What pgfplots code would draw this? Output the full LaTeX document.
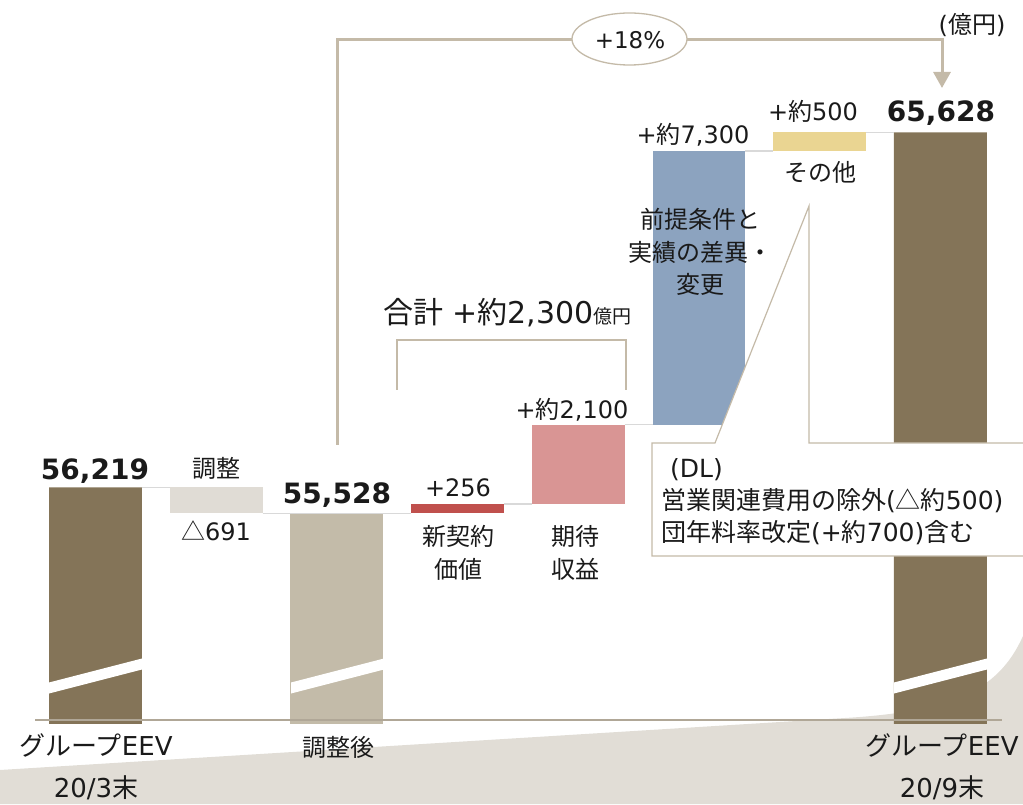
\documentclass[border=0pt]{standalone}
\usepackage{fontspec}
\setmainfont{DejaVu Sans}
\newfontfamily\jp{Noto Sans CJK JP}
\usepackage{pgfplots}
\pgfplotsset{compat=1.18}
\usetikzlibrary{arrows.meta,shapes.geometric}
\definecolor{dark}{HTML}{847458}
\definecolor{adj}{HTML}{E0DCD5}
\definecolor{mid}{HTML}{C3BBA9}
\definecolor{nred}{HTML}{C0504D}
\definecolor{npink}{HTML}{D99594}
\definecolor{nblue}{HTML}{8CA3BF}
\definecolor{nyel}{HTML}{EAD592}
\definecolor{swoosh}{HTML}{E1DDD6}
\definecolor{beige}{HTML}{C4BAA8}
\definecolor{conn}{HTML}{D9D9D9}
\definecolor{txt}{HTML}{1A1A1A}
\newcommand\fs[1]{\fontsize{#1}{#1}\selectfont}
\pgfplotsset{frame/.style={at={(0pt,0pt)}, anchor=south west, x=120.7pt, y=0.03773pt,
  xmin=-0.7912, xmax=7.6844, ymin=47826.7, ymax=69136, axis lines=none, ticks=none, scale only axis}}
\begin{document}
\begin{tikzpicture}
\useasboundingbox (0,0) rectangle (1023pt,804pt);
\begin{scope}[x=1pt,y=-1pt,shift={(0pt,804pt)}]
\fill[swoosh] (0,770) -- (850,717.7) .. controls (950,711) and (998,692) .. (1023,636) -- (1023,804) -- (0,804) -- cycle;
\end{scope}
\begin{axis}[frame, ybar stacked, bar width=0.77]
\addplot[fill=none, draw=none] coordinates {(0,49950) (1,55528) (2,49950) (3,55528) (4,55784) (5,57884) (6,65128) (7,49950)};
\addplot[fill=dark, draw=none] coordinates {(0,6269) (1,0) (2,0) (3,0) (4,0) (5,0) (6,0) (7,15678)};
\addplot[fill=adj, draw=none] coordinates {(0,0) (1,691) (2,0) (3,0) (4,0) (5,0) (6,0) (7,0)};
\addplot[fill=mid, draw=none] coordinates {(0,0) (1,0) (2,5578) (3,0) (4,0) (5,0) (6,0) (7,0)};
\addplot[fill=nred, draw=none] coordinates {(0,0) (1,0) (2,0) (3,256) (4,0) (5,0) (6,0) (7,0)};
\addplot[fill=npink, draw=none] coordinates {(0,0) (1,0) (2,0) (3,0) (4,2100) (5,0) (6,0) (7,0)};
\addplot[fill=nblue, draw=none] coordinates {(0,0) (1,0) (2,0) (3,0) (4,0) (5,7244) (6,0) (7,0)};
\addplot[fill=nyel, draw=none] coordinates {(0,0) (1,0) (2,0) (3,0) (4,0) (5,0) (6,500) (7,0)};
\end{axis}
\begin{axis}[frame]
\addplot[conn, line width=1.5pt] coordinates {(0.385,56219) (0.615,56219)};
\addplot[conn, line width=1.5pt] coordinates {(1.385,55528) (2.615,55528)};
\addplot[conn, line width=1.5pt] coordinates {(3.385,55784) (3.615,55784)};
\addplot[conn, line width=1.5pt] coordinates {(4.385,57884) (4.615,57884)};
\addplot[conn, line width=1.5pt] coordinates {(5.385,65128) (5.615,65128)};
\addplot[conn, line width=1.5pt] coordinates {(6.385,65628) (6.615,65628)};
\addplot[beige!90!black, line width=2.2pt] coordinates {(-0.501,50053) (7.51,50053)};
\end{axis}
\begin{scope}[x=1pt,y=-1pt,shift={(0pt,804pt)}, every node/.style={text=txt, inner sep=0pt}]
\foreach \cx in {95.5,337.5,940.5}{
  \fill[white] (\cx-46.5,693.5) -- (\cx+46.5,669.5) -- (\cx+46.5,658.5) -- (\cx-46.5,682.5) -- cycle;
}
% callout
\filldraw[fill=white, draw=beige, line width=1.2pt] (1030,443) -- (809,443) -- (809,206) -- (715,443) -- (652,443) -- (652,556) -- (1030,556);
\node[anchor=west, font=\fs{25}] at (670,470) {(DL)};
\node[anchor=west, font=\fs{25}] at (661,501) {{\jp 営業関連費用の除外}({\jp △約}500)};
\node[anchor=west, font=\fs{25}] at (661,533) {{\jp 団年料率改定}(+{\jp 約}700){\jp 含む}};
% +18% connector
\draw[beige, line width=3pt, -{Triangle[width=17pt,length=16pt]}] (337,445) -- (337,40) -- (942,40) -- (942,88);
\node[ellipse, draw=beige, fill=white, line width=1.3pt, minimum width=115pt, minimum height=52pt] at (629.5,39) {};
\node[font=\fs{23}] at (630,40) {+18\%};
\node[font=\fs{24}] at (972,25) {({\jp 億円})};
% bracket
\draw[beige, line width=2.5pt] (397,390) -- (397,340) -- (626,340) -- (626,390);
\node[anchor=west, font=\fs{30}] at (383,313) {{\jp 合計} +{\jp 約}2,300{\fs{19}\jp 億円}};
% value labels
\node[font=\fs{28}\bfseries] at (95,471) {56,219};
\node[font=\fs{24}\jp] at (216,468) {調整};
\node[font=\fs{24}] at (216,531) {{\jp △}691};
\node[font=\fs{28}\bfseries] at (337,495) {55,528};
\node[font=\fs{24}] at (458,488) {+256};
\node[font=\fontsize{24}{33}\selectfont\jp, align=center] at (458,553) {新契約\\価値};
\node[font=\fs{24}] at (572,410) {+{\jp 約}2,100};
\node[font=\fontsize{24}{33}\selectfont\jp, align=center] at (575,553) {期待\\収益};
\node[font=\fs{24}] at (693,135) {+{\jp 約}7,300};
\node[font=\fontsize{24}{32.5}\selectfont\jp, align=center] at (700,252) {前提条件と\\実績の差異・\\変更};
\node[font=\fs{24}] at (813,111) {+{\jp 約}500};
\node[font=\fs{24}\jp] at (820,172) {その他};
\node[font=\fs{28}\bfseries] at (941,113) {65,628};
% category labels
\node[font=\fontsize{26}{42}\selectfont, align=center] at (96,767) {{\jp グループ}EEV\\20/3{\jp 末}};
\node[font=\fs{24}\jp] at (338,747) {調整後};
\node[font=\fontsize{26}{42}\selectfont, align=center] at (942,767) {{\jp グループ}EEV\\20/9{\jp 末}};
\end{scope}
\end{tikzpicture}
\end{document}
